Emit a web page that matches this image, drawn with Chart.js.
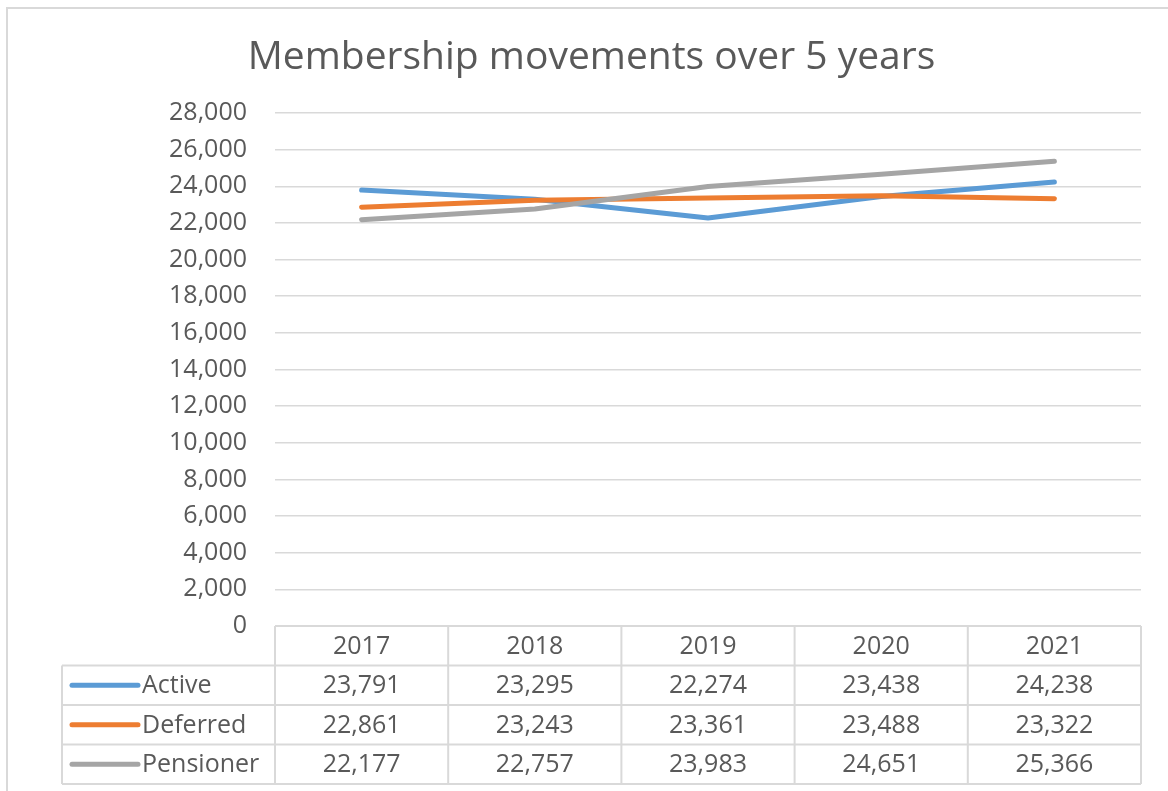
<!DOCTYPE html>
<html>
<head>
<meta charset="utf-8">
<script src="https://cdn.jsdelivr.net/npm/chart.js@4/dist/chart.umd.min.js"></script>
<style>
  html, body { margin: 0; padding: 0; background: #fff; }
  canvas { display: block; }
</style>
</head>
<body>
<canvas id="membershipChart" width="1168" height="791"></canvas>
<script>
const chartTitle = 'Membership movements over 5 years';
const years = ['2017', '2018', '2019', '2020', '2021'];
const seriesNames = ['Active', 'Deferred', 'Pensioner'];
const seriesColors = ['#5B9BD5', '#ED7D31', '#A5A5A5'];
const active = [23791, 23295, 22274, 23438, 24238];
const deferred = [22861, 23243, 23361, 23488, 23322];
const pensioner = [22177, 22757, 23983, 24651, 25366];
const seriesValues = [active, deferred, pensioner];
const yMax = 28000;
const yStep = 2000;

const textColor = '#595959';
const lineGrey = '#d9d9d9';
const fontFamily = '"Open Sans", "Liberation Sans", sans-serif';

const fmt = v => v.toLocaleString('en-US');

// chart frame + white background
const framePlugin = {
  id: 'frame',
  beforeDraw(chart) {
    const ctx = chart.ctx;
    ctx.save();
    ctx.fillStyle = '#fff';
    ctx.fillRect(0, 0, chart.width, chart.height);
    ctx.strokeStyle = lineGrey;
    ctx.lineWidth = 2;
    ctx.strokeRect(7, 8, chart.width + 20, chart.height + 20);
    ctx.restore();
  }
};

// data table under the plot, laid out from the x scale
const dataTablePlugin = {
  id: 'dataTable',
  afterDraw(chart) {
    const { ctx, chartArea } = chart;
    const x = chart.scales.x;
    const n = years.length;
    const colW = (chartArea.right - chartArea.left) / n;
    const top = chartArea.bottom;
    const rowH = 39.5;
    const x0 = 62;
    const bottom = top + rowH * (seriesNames.length + 1);

    ctx.save();
    ctx.strokeStyle = lineGrey;
    ctx.lineWidth = 2;
    ctx.beginPath();
    ctx.moveTo(chartArea.left, top);
    ctx.lineTo(chartArea.right, top);
    for (let r = 1; r <= seriesNames.length + 1; r++) {
      ctx.moveTo(x0, top + rowH * r);
      ctx.lineTo(chartArea.right, top + rowH * r);
    }
    ctx.moveTo(x0, top + rowH);
    ctx.lineTo(x0, bottom);
    for (let c = 0; c <= n; c++) {
      const cx = chartArea.left + colW * c;
      ctx.moveTo(cx, top);
      ctx.lineTo(cx, bottom);
    }
    ctx.stroke();

    ctx.font = '25px ' + fontFamily;
    ctx.fillStyle = textColor;
    ctx.textBaseline = 'middle';
    ctx.textAlign = 'center';
    years.forEach((y, i) => {
      ctx.fillText(y, x.getPixelForTick(i), top + rowH / 2 + 1);
    });

    seriesNames.forEach((name, s) => {
      const cy = top + rowH * (s + 1.5);
      ctx.strokeStyle = seriesColors[s];
      ctx.lineWidth = 5;
      ctx.lineCap = 'round';
      ctx.beginPath();
      ctx.moveTo(x0 + 10, cy);
      ctx.lineTo(x0 + 76, cy);
      ctx.stroke();

      ctx.textAlign = 'left';
      ctx.fillText(name, x0 + 80, cy + 1);
      ctx.textAlign = 'center';
      seriesValues[s].forEach((v, i) => {
        ctx.fillText(fmt(v), x.getPixelForTick(i), cy + 1);
      });
    });
    ctx.restore();
  }
};

new Chart(document.getElementById('membershipChart'), {
  type: 'line',
  data: {
    labels: years,
    datasets: seriesNames.map((name, s) => ({
      label: name,
      data: seriesValues[s],
      borderColor: seriesColors[s],
      backgroundColor: seriesColors[s],
      borderWidth: 5,
      borderCapStyle: 'round',
      borderJoinStyle: 'round',
      pointRadius: 0,
      tension: 0,
      order: seriesNames.length - s
    }))
  },
  options: {
    responsive: false,
    animation: false,
    devicePixelRatio: 1,
    // left padding shifts the title centre; y axis width keeps plot left at 275
    layout: { padding: { top: 0, left: 42, right: 27, bottom: 0 } },
    plugins: {
      legend: { display: false },
      tooltip: { enabled: false },
      title: {
        display: true,
        text: chartTitle,
        color: textColor,
        font: { family: fontFamily, size: 39, weight: 'normal' },
        padding: { top: 34, bottom: 32.2 }
      }
    },
    scales: {
      x: {
        offset: true,
        grid: { display: false },
        border: { display: false },
        ticks: { display: false },
        afterFit(s) { s.height = 165; }
      },
      y: {
        min: 0,
        max: yMax,
        grid: { color: lineGrey, lineWidth: 1.5, drawTicks: false },
        border: { display: false },
        ticks: {
          stepSize: yStep,
          padding: 28,
          color: textColor,
          font: { family: fontFamily, size: 25 },
          callback: v => fmt(v)
        },
        afterFit(s) { s.width = 233; }
      }
    }
  },
  plugins: [framePlugin, dataTablePlugin]
});
</script>
</body>
</html>
